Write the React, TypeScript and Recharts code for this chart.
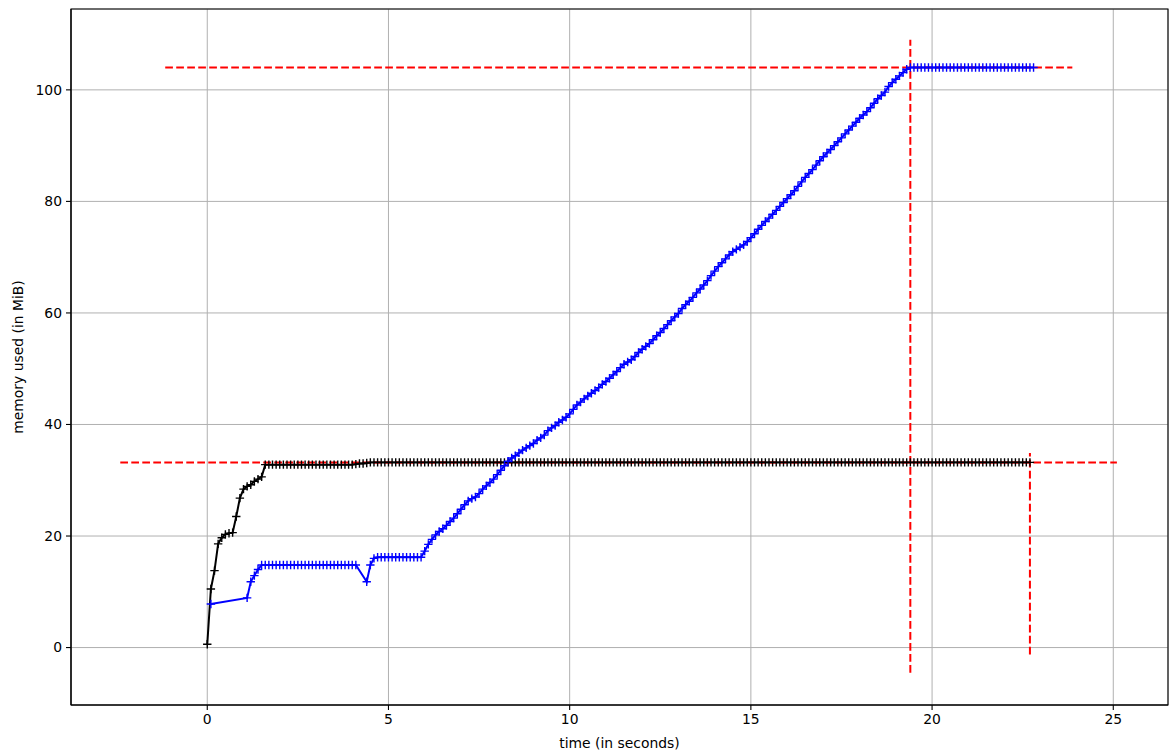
import React from 'react';
import { LineChart, Line, XAxis, YAxis, CartesianGrid, ReferenceLine, ReferenceArea, Label } from 'recharts';

// sample times (s) and memory (MiB) of the two runs
const blackTime = [
  0, 0.1, 0.2, 0.3, 0.4, 0.5, 0.6, 0.7, 0.8, 0.9,
  1.0, 1.1, 1.2, 1.3, 1.4, 1.5, 1.6, 1.7, 1.8, 1.9,
  2.0, 2.1, 2.2, 2.3, 2.4, 2.5, 2.6, 2.7, 2.8, 2.9,
  3.0, 3.1, 3.2, 3.3, 3.4, 3.5, 3.6, 3.7, 3.8, 3.9,
  4.0, 4.1, 4.2, 4.3, 4.4, 4.5, 4.6, 4.7, 4.8, 4.9,
  5.0, 5.1, 5.2, 5.3, 5.4, 5.5, 5.6, 5.7, 5.8, 5.9,
  6.0, 6.1, 6.2, 6.3, 6.4, 6.5, 6.6, 6.7, 6.8, 6.9,
  7.0, 7.1, 7.2, 7.3, 7.4, 7.5, 7.6, 7.7, 7.8, 7.9,
  8.0, 8.1, 8.2, 8.3, 8.4, 8.5, 8.6, 8.7, 8.8, 8.9,
  9.0, 9.1, 9.2, 9.3, 9.4, 9.5, 9.6, 9.7, 9.8, 9.9,
  10.0, 10.1, 10.2, 10.3, 10.4, 10.5, 10.6, 10.7, 10.8, 10.9,
  11.0, 11.1, 11.2, 11.3, 11.4, 11.5, 11.6, 11.7, 11.8, 11.9,
  12.0, 12.1, 12.2, 12.3, 12.4, 12.5, 12.6, 12.7, 12.8, 12.9,
  13.0, 13.1, 13.2, 13.3, 13.4, 13.5, 13.6, 13.7, 13.8, 13.9,
  14.0, 14.1, 14.2, 14.3, 14.4, 14.5, 14.6, 14.7, 14.8, 14.9,
  15.0, 15.1, 15.2, 15.3, 15.4, 15.5, 15.6, 15.7, 15.8, 15.9,
  16.0, 16.1, 16.2, 16.3, 16.4, 16.5, 16.6, 16.7, 16.8, 16.9,
  17.0, 17.1, 17.2, 17.3, 17.4, 17.5, 17.6, 17.7, 17.8, 17.9,
  18.0, 18.1, 18.2, 18.3, 18.4, 18.5, 18.6, 18.7, 18.8, 18.9,
  19.0, 19.1, 19.2, 19.3, 19.4, 19.5, 19.6, 19.7, 19.8, 19.9,
  20.0, 20.1, 20.2, 20.3, 20.4, 20.5, 20.6, 20.7, 20.8, 20.9,
  21.0, 21.1, 21.2, 21.3, 21.4, 21.5, 21.6, 21.7, 21.8, 21.9,
  22.0, 22.1, 22.2, 22.3, 22.4, 22.5, 22.6, 22.7,
];
const blackMem = [
  0.6, 10.5, 13.8, 18.6, 19.7, 20.3, 20.5, 20.6, 23.5, 26.8,
  28.4, 28.9, 29.2, 29.8, 30.2, 30.6, 32.8, 32.8, 32.8, 32.8,
  32.8, 32.8, 32.8, 32.8, 32.8, 32.8, 32.8, 32.8, 32.8, 32.8,
  32.8, 32.8, 32.8, 32.8, 32.8, 32.8, 32.8, 32.8, 32.8, 32.8,
  32.8, 32.9, 33.0, 33.0, 33.1, 33.2, 33.2, 33.2, 33.2, 33.2,
  33.2, 33.2, 33.2, 33.2, 33.2, 33.2, 33.2, 33.2, 33.2, 33.2,
  33.2, 33.2, 33.2, 33.2, 33.2, 33.2, 33.2, 33.2, 33.2, 33.2,
  33.2, 33.2, 33.2, 33.2, 33.2, 33.2, 33.2, 33.2, 33.2, 33.2,
  33.2, 33.2, 33.2, 33.2, 33.2, 33.2, 33.2, 33.2, 33.2, 33.2,
  33.2, 33.2, 33.2, 33.2, 33.2, 33.2, 33.2, 33.2, 33.2, 33.2,
  33.2, 33.2, 33.2, 33.2, 33.2, 33.2, 33.2, 33.2, 33.2, 33.2,
  33.2, 33.2, 33.2, 33.2, 33.2, 33.2, 33.2, 33.2, 33.2, 33.2,
  33.2, 33.2, 33.2, 33.2, 33.2, 33.2, 33.2, 33.2, 33.2, 33.2,
  33.2, 33.2, 33.2, 33.2, 33.2, 33.2, 33.2, 33.2, 33.2, 33.2,
  33.2, 33.2, 33.2, 33.2, 33.2, 33.2, 33.2, 33.2, 33.2, 33.2,
  33.2, 33.2, 33.2, 33.2, 33.2, 33.2, 33.2, 33.2, 33.2, 33.2,
  33.2, 33.2, 33.2, 33.2, 33.2, 33.2, 33.2, 33.2, 33.2, 33.2,
  33.2, 33.2, 33.2, 33.2, 33.2, 33.2, 33.2, 33.2, 33.2, 33.2,
  33.2, 33.2, 33.2, 33.2, 33.2, 33.2, 33.2, 33.2, 33.2, 33.2,
  33.2, 33.2, 33.2, 33.2, 33.2, 33.2, 33.2, 33.2, 33.2, 33.2,
  33.2, 33.2, 33.2, 33.2, 33.2, 33.2, 33.2, 33.2, 33.2, 33.2,
  33.2, 33.2, 33.2, 33.2, 33.2, 33.2, 33.2, 33.2, 33.2, 33.2,
  33.2, 33.2, 33.2, 33.2, 33.2, 33.2, 33.2, 33.2,
];

const blueTime = [
  0.1, 1.1, 1.2, 1.3, 1.4, 1.5, 1.6, 1.7, 1.8, 1.9,
  2.0, 2.1, 2.2, 2.3, 2.4, 2.5, 2.6, 2.7, 2.8, 2.9,
  3.0, 3.1, 3.2, 3.3, 3.4, 3.5, 3.6, 3.7, 3.8, 3.9,
  4.0, 4.1, 4.4, 4.5, 4.6, 4.7, 4.8, 4.9,
  5.0, 5.1, 5.2, 5.3, 5.4, 5.5, 5.6, 5.7, 5.8, 5.9,
  6.0, 6.1, 6.2, 6.3, 6.4, 6.5, 6.6, 6.7, 6.8, 6.9,
  7.0, 7.1, 7.2, 7.3, 7.4, 7.5, 7.6, 7.7, 7.8, 7.9,
  8.0, 8.1, 8.2, 8.3, 8.4, 8.5, 8.6, 8.7, 8.8, 8.9,
  9.0, 9.1, 9.2, 9.3, 9.4, 9.5, 9.6, 9.7, 9.8, 9.9,
  10.0, 10.1, 10.2, 10.3, 10.4, 10.5, 10.6, 10.7, 10.8, 10.9,
  11.0, 11.1, 11.2, 11.3, 11.4, 11.5, 11.6, 11.7, 11.8, 11.9,
  12.0, 12.1, 12.2, 12.3, 12.4, 12.5, 12.6, 12.7, 12.8, 12.9,
  13.0, 13.1, 13.2, 13.3, 13.4, 13.5, 13.6, 13.7, 13.8, 13.9,
  14.0, 14.1, 14.2, 14.3, 14.4, 14.5, 14.6, 14.7, 14.8, 14.9,
  15.0, 15.1, 15.2, 15.3, 15.4, 15.5, 15.6, 15.7, 15.8, 15.9,
  16.0, 16.1, 16.2, 16.3, 16.4, 16.5, 16.6, 16.7, 16.8, 16.9,
  17.0, 17.1, 17.2, 17.3, 17.4, 17.5, 17.6, 17.7, 17.8, 17.9,
  18.0, 18.1, 18.2, 18.3, 18.4, 18.5, 18.6, 18.7, 18.8, 18.9,
  19.0, 19.1, 19.2, 19.3, 19.4, 19.5, 19.6, 19.7, 19.8, 19.9,
  20.0, 20.1, 20.2, 20.3, 20.4, 20.5, 20.6, 20.7, 20.8, 20.9,
  21.0, 21.1, 21.2, 21.3, 21.4, 21.5, 21.6, 21.7, 21.8, 21.9,
  22.0, 22.1, 22.2, 22.3, 22.4, 22.5, 22.6, 22.7, 22.8,
];
const blueMem = [
  7.8, 8.9, 11.8, 12.9, 14.0, 14.8, 14.8, 14.8, 14.8, 14.8,
  14.8, 14.8, 14.8, 14.8, 14.8, 14.8, 14.8, 14.8, 14.8, 14.8,
  14.8, 14.8, 14.8, 14.8, 14.8, 14.8, 14.8, 14.8, 14.8, 14.8,
  14.8, 14.8, 11.8, 14.8, 16.0, 16.2, 16.2, 16.2,
  16.2, 16.2, 16.2, 16.2, 16.2, 16.2, 16.2, 16.2, 16.2, 16.2,
  17.3, 18.5, 19.4, 20.2, 20.8, 21.3, 21.9, 22.6, 23.2, 24.0,
  24.8, 25.6, 26.3, 26.7, 27.0, 27.6, 28.4, 29.0, 29.6, 30.2,
  31.0, 31.8, 32.6, 33.4, 34.0, 34.4, 34.9, 35.4, 35.8, 36.2,
  36.6, 37.2, 37.6, 38.1, 38.9, 39.4, 39.8, 40.4, 40.8, 41.3,
  41.9, 42.7, 43.5, 44.0, 44.6, 45.1, 45.6, 46.1, 46.6, 47.2,
  47.7, 48.3, 48.9, 49.5, 50.2, 50.8, 51.2, 51.6, 52.2, 52.9,
  53.5, 54.0, 54.5, 55.2, 55.9, 56.5, 57.2, 57.9, 58.6, 59.3,
  59.9, 60.8, 61.5, 62.1, 62.8, 63.6, 64.3, 65.0, 65.8, 66.7,
  67.5, 68.3, 69.0, 69.7, 70.4, 71.0, 71.4, 71.8, 72.2, 72.8,
  73.5, 74.2, 75.0, 75.7, 76.4, 77.0, 77.7, 78.4, 79.1, 79.8,
  80.5, 81.2, 81.9, 82.7, 83.5, 84.3, 85.0, 85.7, 86.5, 87.3,
  88.0, 88.7, 89.3, 90.0, 90.7, 91.4, 92.1, 92.8, 93.5, 94.2,
  94.9, 95.5, 96.1, 96.8, 97.6, 98.4, 99.0, 99.6, 100.6, 101.3,
  101.9, 102.5, 103.1, 103.7, 104.0, 104.0, 104.0, 104.0, 104.0, 104.0,
  104.0, 104.0, 104.0, 104.0, 104.0, 104.0, 104.0, 104.0, 104.0, 104.0,
  104.0, 104.0, 104.0, 104.0, 104.0, 104.0, 104.0, 104.0, 104.0, 104.0,
  104.0, 104.0, 104.0, 104.0, 104.0, 104.0, 104.0, 104.0, 104.0,
];

// red dashed max-memory markers: [x1, y1, x2, y2]
const maxLines = [
  [-1.16, 104.0, 23.87, 104.0],
  [19.4, -4.5, 19.4, 109.0],
  [-2.4, 33.2, 25.1, 33.2],
  [22.7, -1.25, 22.7, 34.9],
];

const xDomain = [-3.76, 26.51];
const yDomain = [-10.3, 114.5];
const xTicks = [0, 5, 10, 15, 20, 25];
const yTicks = [0, 20, 40, 60, 80, 100];

const blackData = blackTime.map((t, i) => ({ t, mem: blackMem[i] }));
const blueData = blueTime.map((t, i) => ({ t, mem: blueMem[i] }));

const FONT = 'DejaVu Sans, sans-serif';
const tickStyle = { fill: '#000', fontSize: 13.9, fontFamily: FONT };

const plus = (color: string, tag: string) => (props: any) => {
  const { cx, cy, index } = props;
  if (cx == null || cy == null) return <g key={`${tag}-${index}`} />;
  return (
    <path
      key={`${tag}-${index}`}
      d={`M${cx - 4.2},${cy}h8.4M${cx},${cy - 4.2}v8.4`}
      stroke={color}
      strokeWidth={1.4}
      fill="none"
    />
  );
};

export default function App() {
  // absolutely placed so the page never scrolls; fills the whole 1169x752 window
  return (
    <div style={{ position: 'absolute', left: 0, top: 0, width: 1169, height: 752, background: '#fff', fontFamily: FONT }}>
      <LineChart width={1169} height={752} margin={{ top: 9, right: 1, bottom: 0, left: 0 }}>
        <CartesianGrid stroke="#b0b0b0" strokeWidth={1} />
        <XAxis
          dataKey="t"
          type="number"
          domain={xDomain}
          allowDataOverflow
          ticks={xTicks}
          height={47}
          tick={tickStyle}
          tickSize={5}
          tickMargin={4}
          axisLine={{ stroke: '#000', strokeWidth: 1.1 }}
          tickLine={{ stroke: '#000', strokeWidth: 1.1 }}
        >
          <Label value="time (in seconds)" position="insideBottom" offset={4} style={{ fill: '#000', fontSize: 13.9, fontFamily: FONT }} />
        </XAxis>
        <YAxis
          type="number"
          domain={yDomain}
          allowDataOverflow
          ticks={yTicks}
          width={71}
          tick={tickStyle}
          tickSize={5}
          tickMargin={4}
          axisLine={{ stroke: '#000', strokeWidth: 1.1 }}
          tickLine={{ stroke: '#000', strokeWidth: 1.1 }}
        >
          <Label value="memory used (in MiB)" angle={-90} position="insideLeft" offset={18} style={{ textAnchor: 'middle', fill: '#000', fontSize: 13.9, fontFamily: FONT }} />
        </YAxis>
        {/* frame around the plot area (top and right spines) */}
        <ReferenceArea
          x1={xDomain[0]}
          x2={xDomain[1]}
          y1={yDomain[0]}
          y2={yDomain[1]}
          fill="none"
          fillOpacity={0}
          stroke="#000"
          strokeWidth={1.1}
          ifOverflow="visible"
        />
        <Line
          data={blackData}
          dataKey="mem"
          stroke="#000"
          strokeWidth={2}
          dot={plus('#000', 'k')}
          activeDot={false}
          isAnimationActive={false}
        />
        <Line
          data={blueData}
          dataKey="mem"
          stroke="#0000ff"
          strokeWidth={2}
          dot={plus('#0000ff', 'b')}
          activeDot={false}
          isAnimationActive={false}
        />
        {maxLines.map(([x1, y1, x2, y2], i) => (
          <ReferenceLine
            key={i}
            segment={[{ x: x1, y: y1 }, { x: x2, y: y2 }]}
            stroke="#ff0000"
            strokeWidth={2}
            strokeDasharray="7.7 3.3"
            ifOverflow="visible"
          />
        ))}
      </LineChart>
    </div>
  );
}
